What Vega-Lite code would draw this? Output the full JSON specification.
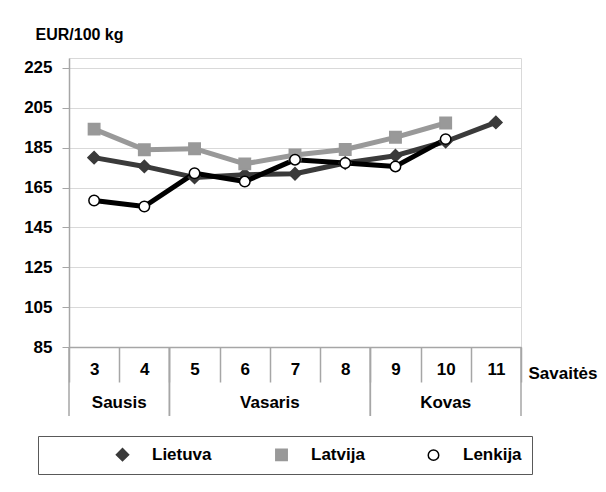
{
  "$schema": "https://vega.github.io/schema/vega-lite/v6.json",
  "width": 452,
  "height": 289,
  "autosize": "none",
  "padding": {"left": 69, "top": 58, "right": 85, "bottom": 145},
  "background": "white",
  "config": {
    "view": {"stroke": "#d9d9d9", "strokeWidth": 1},
    "font": "Liberation Sans"
  },
  "datasets": {
    "prices": [
      {"country": "Lietuva", "week": 3, "price": 180.0},
      {"country": "Lietuva", "week": 4, "price": 175.6},
      {"country": "Lietuva", "week": 5, "price": 170.1},
      {"country": "Lietuva", "week": 6, "price": 171.4},
      {"country": "Lietuva", "week": 7, "price": 171.9},
      {"country": "Lietuva", "week": 8, "price": 177.3},
      {"country": "Lietuva", "week": 9, "price": 181.0},
      {"country": "Lietuva", "week": 10, "price": 188.1},
      {"country": "Lietuva", "week": 11, "price": 197.7},
      {"country": "Latvija", "week": 3, "price": 194.3},
      {"country": "Latvija", "week": 4, "price": 184.0},
      {"country": "Latvija", "week": 5, "price": 184.5},
      {"country": "Latvija", "week": 6, "price": 176.9},
      {"country": "Latvija", "week": 7, "price": 181.3},
      {"country": "Latvija", "week": 8, "price": 184.1},
      {"country": "Latvija", "week": 9, "price": 190.2},
      {"country": "Latvija", "week": 10, "price": 197.4},
      {"country": "Lenkija", "week": 3, "price": 158.5},
      {"country": "Lenkija", "week": 4, "price": 155.5},
      {"country": "Lenkija", "week": 5, "price": 172.2},
      {"country": "Lenkija", "week": 6, "price": 168.0},
      {"country": "Lenkija", "week": 7, "price": 179.0},
      {"country": "Lenkija", "week": 8, "price": 177.3},
      {"country": "Lenkija", "week": 9, "price": 175.6},
      {"country": "Lenkija", "week": 10, "price": 189.3}
    ],
    "months": [
      {"month": "Sausis", "first": 3, "last": 4},
      {"month": "Vasaris", "first": 5, "last": 8},
      {"month": "Kovas", "first": 9, "last": 11}
    ]
  },
  "layer": [
    {
      "data": {"name": "prices"},
      "encoding": {
        "x": {
          "field": "week",
          "type": "ordinal",
          "scale": {"type": "band", "paddingInner": 0, "paddingOuter": 0},
          "title": "Savaitės",
          "axis": {
            "orient": "bottom",
            "labelAngle": 0,
            "tickBand": "extent",
            "tickSize": 35,
            "tickWidth": 1.5,
            "tickColor": "#a6a6a6",
            "domainColor": "#a6a6a6",
            "domainWidth": 1.5,
            "labelBaseline": "middle",
            "labelPadding": -13,
            "labelFont": "Liberation Sans",
            "labelFontSize": 17,
            "labelFontWeight": "bold",
            "labelColor": "#000000",
            "titleFont": "Liberation Sans",
            "titleFontSize": 17,
            "titleFontWeight": "bold",
            "titleColor": "#000000",
            "titleX": 459,
            "titleY": 26,
            "titleAlign": "left",
            "titleBaseline": "middle",
            "grid": false
          }
        },
        "y": {
          "field": "price",
          "type": "quantitative",
          "scale": {"domain": [85, 230], "nice": false, "zero": false},
          "title": "EUR/100 kg",
          "axis": {
            "orient": "left",
            "values": [85, 105, 125, 145, 165, 185, 205, 225],
            "grid": true,
            "gridColor": "#d9d9d9",
            "gridWidth": 1,
            "domainColor": "#a6a6a6",
            "domainWidth": 1.5,
            "tickColor": "#a6a6a6",
            "tickSize": 7,
            "labelPadding": 10,
            "labelFont": "Liberation Sans",
            "labelFontSize": 17,
            "labelFontWeight": "bold",
            "labelColor": "#000000",
            "titleFont": "Liberation Sans",
            "titleFontSize": 16,
            "titleFontWeight": "bold",
            "titleColor": "#000000",
            "titleAngle": 0,
            "titleX": -34,
            "titleY": -24,
            "titleAlign": "left",
            "titleBaseline": "middle"
          }
        }
      },
      "layer": [
        {
          "mark": {"type": "line", "strokeWidth": 5, "strokeJoin": "round"},
          "encoding": {
            "color": {
              "field": "country",
              "type": "nominal",
              "sort": ["Lietuva", "Latvija", "Lenkija"],
              "scale": {"domain": ["Lietuva", "Latvija", "Lenkija"], "range": ["#3a3a3a", "#999999", "#000000"]},
              "legend": {
                "orient": "none",
                "legendX": -31,
                "legendY": 378,
                "direction": "horizontal",
                "columns": 3,
                "title": "\u00a0",
                "titleOrient": "left",
                "titleFontSize": 2,
                "titlePadding": 66,
                "strokeColor": "#595959",
                "padding": 10,
                "columnPadding": 60,
                "labelOffset": 21,
                "labelFont": "Liberation Sans",
                "labelFontSize": 17,
                "labelFontWeight": "bold",
                "labelColor": "#000000"
              }
            }
          }
        },
        {
          "transform": [{"calculate": "datum.country", "as": "series"}],
          "mark": {"type": "point", "filled": true, "strokeWidth": 1.5, "opacity": 1},
          "encoding": {
            "shape": {
              "field": "series",
              "type": "nominal",
              "scale": {"domain": ["Lietuva", "Latvija", "Lenkija"], "range": ["diamond", "square", "circle"]},
              "legend": null
            },
            "fill": {
              "field": "series",
              "type": "nominal",
              "scale": {"domain": ["Lietuva", "Latvija", "Lenkija"], "range": ["#3a3a3a", "#999999", "#ffffff"]},
              "legend": null
            },
            "stroke": {
              "field": "series",
              "type": "nominal",
              "scale": {"domain": ["Lietuva", "Latvija", "Lenkija"], "range": ["#3a3a3a", "#999999", "#000000"]},
              "legend": null
            },
            "size": {
              "field": "series",
              "type": "nominal",
              "scale": {"domain": ["Lietuva", "Latvija", "Lenkija"], "range": [150, 110, 115]},
              "legend": null
            }
          }
        }
      ]
    },
    {
      "data": {"name": "months"},
      "transform": [
        {"calculate": "datum.first - 0.5", "as": "lo"},
        {"calculate": "datum.last + 0.5", "as": "hi"},
        {"calculate": "(datum.first + datum.last) / 2", "as": "mid"}
      ],
      "layer": [
        {
          "mark": {"type": "rule", "color": "#a6a6a6", "strokeWidth": 1.5},
          "encoding": {
            "x": {"field": "lo", "type": "quantitative", "scale": {"domain": [2.5, 11.5], "nice": false, "zero": false}, "axis": null},
            "y": {"datum": 85},
            "y2": {"datum": 50.4}
          }
        },
        {
          "mark": {"type": "rule", "color": "#a6a6a6", "strokeWidth": 1.5},
          "encoding": {
            "x": {"field": "hi", "type": "quantitative", "scale": {"domain": [2.5, 11.5], "nice": false, "zero": false}, "axis": null},
            "y": {"datum": 85},
            "y2": {"datum": 50.4}
          }
        },
        {
          "mark": {"type": "text", "font": "Liberation Sans", "fontSize": 17, "fontWeight": "bold", "color": "#000000", "baseline": "middle", "align": "center"},
          "encoding": {
            "x": {"field": "mid", "type": "quantitative", "scale": {"domain": [2.5, 11.5], "nice": false, "zero": false}, "axis": null},
            "y": {"datum": 56.7},
            "text": {"field": "month"}
          }
        }
      ]
    }
  ],
  "resolve": {"scale": {"x": "independent"}, "axis": {"x": "independent"}}
}
